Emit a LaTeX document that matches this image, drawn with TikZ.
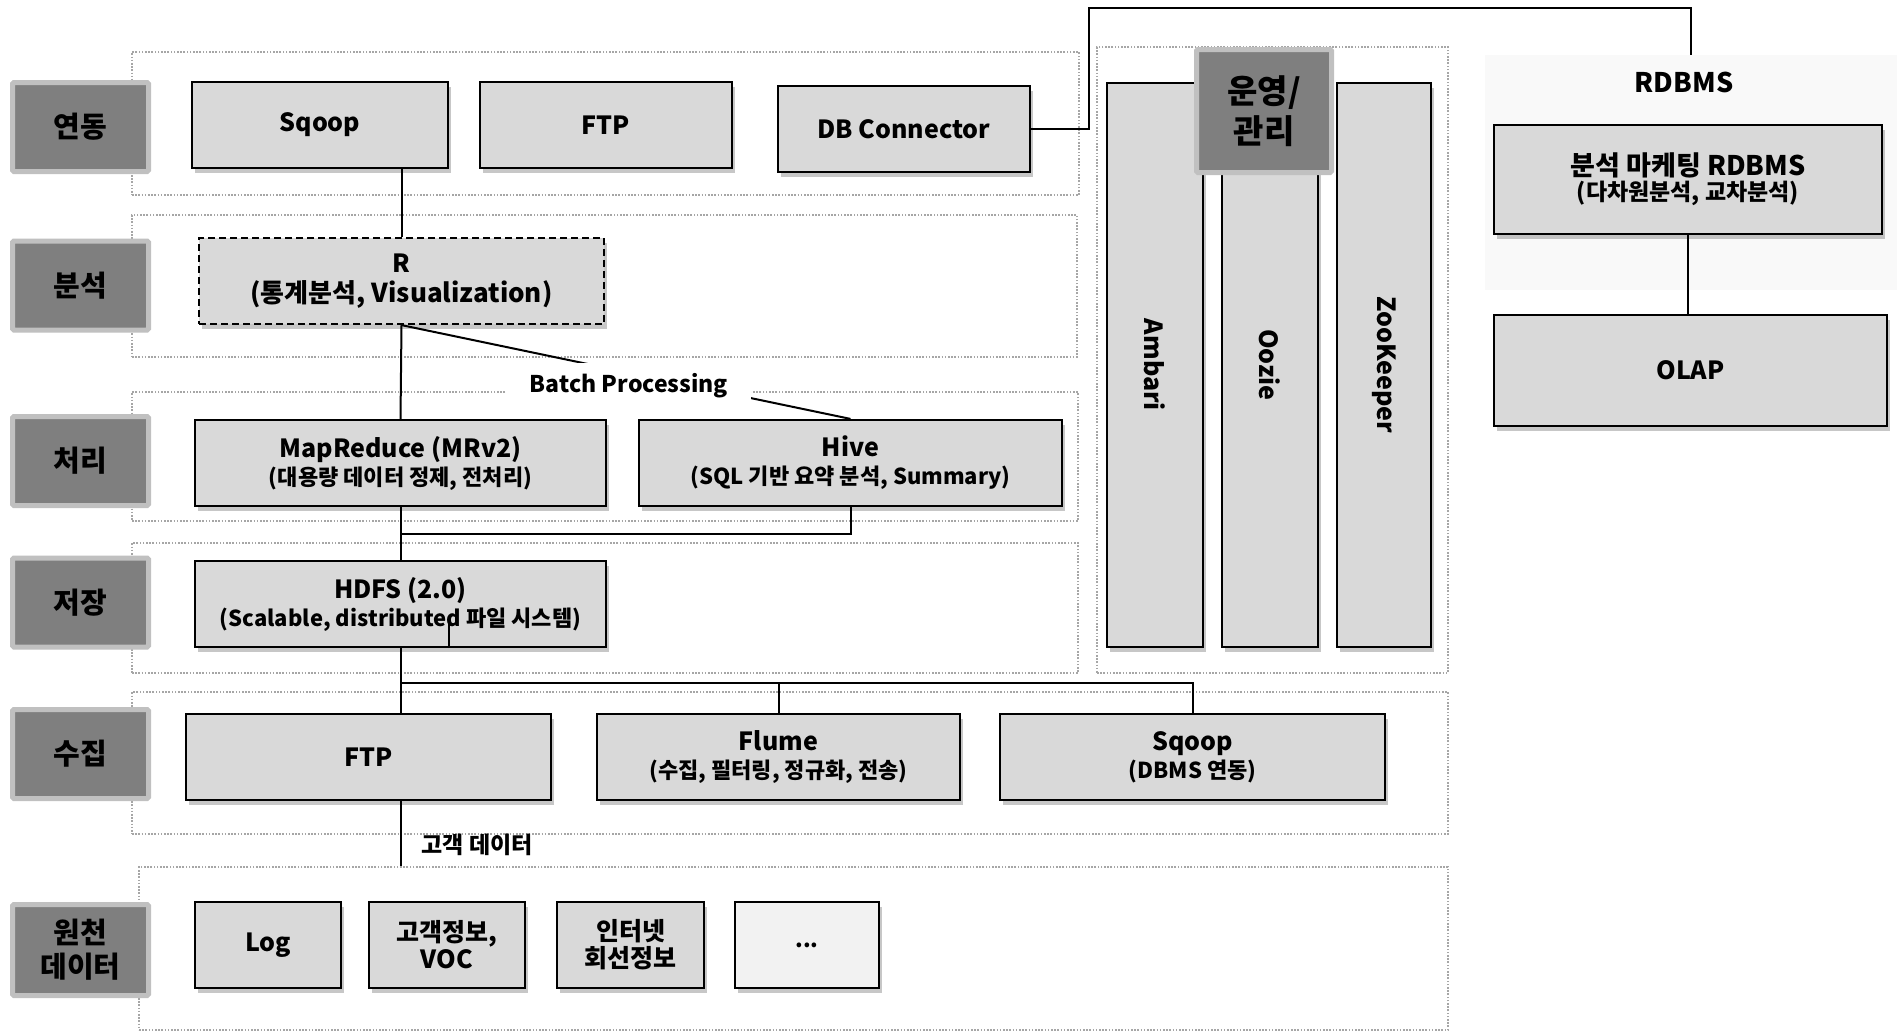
\documentclass[tikz,border=0pt]{standalone}
\usepackage{fontspec}
\setmainfont{Noto Sans CJK KR}
\usetikzlibrary{positioning,fit,backgrounds,shadows}
\definecolor{boxgray}{HTML}{D9D9D9}
\definecolor{taggray}{HTML}{7F7F7F}
\definecolor{tagrim}{HTML}{C0C0C0}
\definecolor{dotgray}{HTML}{A6A6A6}
\newcommand\hdfont{\fontsize{25}{30}\selectfont\bfseries}
\newcommand\subfont{\fontsize{22}{26}\selectfont\bfseries}
\newcommand\tagfont{\fontsize{29}{34}\selectfont\bfseries}
\newcommand\colfont{\fontsize{25}{30}\selectfont\bfseries}
\newcommand\notefont{\fontsize{23}{27}\selectfont\bfseries}
\tikzset{
	diagram/.style={x=1pt, y=-1pt},
	unit/.style={draw, line width=2.2pt, fill=boxgray, align=center, inner sep=2pt,
	             minimum height=86pt, font=\hdfont,
	             drop shadow={shadow xshift=3pt, shadow yshift=-5pt, fill=black, opacity=0.22}},
	tag/.style={draw=tagrim, line width=5pt, fill=taggray, rounded corners=1.5pt,
	            minimum width=136pt, minimum height=89pt, align=center, font=\tagfont},
	rowbox/.style={draw=dotgray, line width=1.6pt, dash pattern=on 1.6pt off 1.6pt, inner sep=0pt},
	wire/.style={line width=2pt},
	note/.style={font=\notefont, inner sep=2pt},
}

\begin{document}
\begin{tikzpicture}[diagram]
\useasboundingbox (0,0) rectangle (1897,1031);

% ---------- sloji ----------
\begin{scope}[on background layer]
	\fill[white] (0,0) rectangle (1897,1031);
	\node[rowbox, fit={(132,52) (1079,195)}] (rowlink) {};
	\node[rowbox, fit={(132,215) (1077,357)}] (rowanal) {};
	\node[rowbox, fit={(132,392) (1078,521)}] (rowproc) {};
	\node[rowbox, fit={(132,543) (1078,673)}] (rowstore) {};
	\node[rowbox, fit={(132,692) (1448,834)}] (rowcoll) {};
	\node[rowbox, fit={(139,867) (1448,1030)}] (rowsrc) {};
	\node[rowbox, fit={(1097,47) (1448,673)}] (rowops) {};
	\node[fill=gray!5, inner sep=0pt, fit={(1485,55) (1897,290)}] (rdbarea) {};
\end{scope}

% ---------- komponente ----------
\node[unit, minimum width=256pt] (sqoopA) at (320,125) {Sqoop};
\node[unit, minimum width=252pt] (ftpA) at (606,125) {FTP};
\node[unit, minimum width=252pt] (dbconn) at (904,129) {DB Connector};

\node[unit, dash pattern=on 7pt off 4pt, minimum width=405pt] (rstat) at (401.5,281)
    {R\\[0pt]{\fontsize{26}{30}\selectfont (통계분석, Visualization)}};

\node[unit, minimum width=411pt] (mapred) at (400.5,463)
    {MapReduce (MRv2)\\[-2pt]{\subfont (대용량 데이터 정제, 전처리)}};
\node[unit, minimum width=423pt] (hive) at (850.5,463)
    {Hive\\[-2pt]{\subfont (SQL 기반 요약 분석, Summary)}};
\node[unit, minimum width=411pt] (hdfs) at (400.5,604)
    {HDFS (2.0)\\[-2pt]{\subfont (Scalable, distributed 파일 시스템)}};

\node[unit, minimum width=365pt] (ftpB) at (368.5,757) {FTP};
\node[unit, minimum width=363pt] (flume) at (778.5,757)
    {Flume\\[-2pt]{\subfont (수집, 필터링, 정규화, 전송)}};
\node[unit, minimum width=385pt] (sqoopB) at (1192.5,757)
    {Sqoop\\[-2pt]{\subfont (DBMS 연동)}};

\node[unit, minimum width=146pt] (srclog) at (268,945) {Log};
\node[unit, minimum width=156pt] (srccust) at (447,945) {고객정보,\\[-3pt]VOC};
\node[unit, minimum width=147pt] (srcnet) at (630.5,945) {인터넷\\[-3pt]회선정보};
\node[unit, minimum width=144pt, fill=gray!10] (srcetc) at (807,945) {\subfont ...};

\node[unit, minimum width=96pt, minimum height=564pt] (ambari) at (1155,365) {\rotatebox{-90}{\colfont Ambari}};
\node[unit, minimum width=96pt, minimum height=564pt] (oozie) at (1270,365) {\rotatebox{-90}{\colfont Oozie}};
\node[unit, minimum width=94pt, minimum height=564pt] (zookeeper) at (1384,365) {\rotatebox{-90}{\colfont ZooKeeper}};

\node[font=\fontsize{27}{32}\selectfont\bfseries] (rdbtitle) at (1684,82) {RDBMS};
\node[unit, minimum width=388pt, minimum height=109pt] (mkt) at (1688,179.5)
    {{\fontsize{27}{32}\selectfont 분석 마케팅 RDBMS}\\[-5pt]{\fontsize{23}{27}\selectfont (다차원분석, 교차분석)}};
\node[unit, minimum width=393pt, minimum height=111pt] (olap) at (1690.5,370.5) {OLAP};

% ---------- oznake slojev ----------
\node[tag] (tlink) at (80.5,127) {연동};
\node[tag] (tanal) at (80.5,285.5) {분석};
\node[tag] (tproc) at (80.5,461) {처리};
\node[tag] (tstore) at (80.5,602.5) {저장};
\node[tag] (tcoll) at (80.5,754) {수집};
\node[tag, minimum height=91pt] (tsrc) at (80.5,950) {원천\\[0pt]데이터};
\node[tag, minimum width=135pt, minimum height=123pt, font=\fontsize{33}{38}\selectfont\bfseries]
    (tops) at (1264,111) {운영/\\[2pt]관리};

% ---------- povezave ----------
\draw[wire] (rstat.north) -- (rstat.north |- sqoopA.south);
\draw[wire] (rstat.south) -- (mapred.north);
\draw[wire] (rstat.south) -- (hive.north);
\node[note, fill=white, minimum width=244pt, minimum height=46pt] (batch) at (629,386) {Batch Processing};

\draw[wire] (mapred.south) -- (hdfs.north);
\draw[wire] (hive.south) -- ++(0,27) -| (mapred.south);

\path (hdfs.south) ++(0,35) coordinate (busB);
\draw[wire] (hdfs.south) -- (busB) -| (sqoopB.north);
\draw[wire] (busB) -- (busB |- ftpB.north);
\draw[wire] (flume.north) -- (flume.north |- busB);
\draw[wire] ([xshift=48pt]hdfs.south) -- ++(0,-32);

\draw[wire] (busB |- ftpB.south) -- node[note, pos=0.68, anchor=west, xshift=18pt] (custdata) {고객 데이터}
    (busB |- rowsrc.north);

\draw[wire] (dbconn.east) -- ++(58,0) -- ++(0,-121) -| (rdbarea.north);
\draw[wire] (mkt.south) -- (mkt.south |- olap.north);

\end{tikzpicture}
\end{document}
